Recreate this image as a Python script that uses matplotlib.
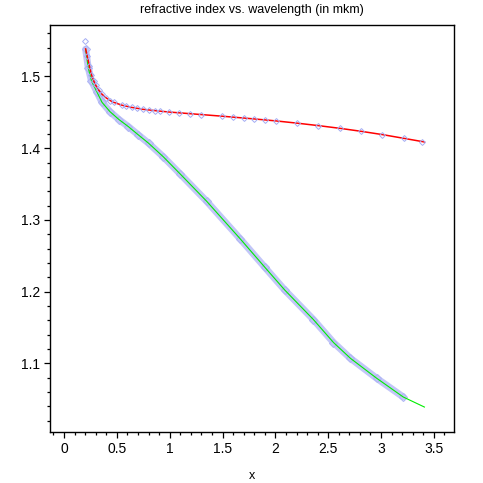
import matplotlib
matplotlib.use("Agg")
import matplotlib.pyplot as plt
from matplotlib.ticker import MultipleLocator

plt.rcParams['font.family'] = ['Liberation Sans', 'DejaVu Sans']

# Upper curve (red line) values
red_x = [0.205, 0.22, 0.24, 0.26, 0.28, 0.30, 0.33, 0.36, 0.40, 0.44, 0.47, 0.55,
         0.64, 0.75, 0.86, 0.99, 1.195, 1.498, 1.801, 2.009, 2.207, 2.406, 2.611,
         2.813, 3.011, 3.217, 3.41]
red_y = [1.5384, 1.5285, 1.5149, 1.5024, 1.4942, 1.4878, 1.4807, 1.4753, 1.4701,
         1.4662, 1.4640, 1.4599, 1.4569, 1.4542, 1.4524, 1.4505, 1.4481, 1.4446,
         1.4408, 1.4380, 1.4349, 1.4315, 1.4277, 1.4235, 1.4190, 1.4137, 1.4087]

# Upper curve measured points (diamonds)
up_pts_x = [0.20, 0.22, 0.24, 0.26, 0.28, 0.30, 0.33, 0.36, 0.40, 0.44, 0.47, 0.55,
            0.59, 0.64, 0.69, 0.75, 0.80, 0.86, 0.91, 0.99, 1.09, 1.195, 1.296,
            1.498, 1.602, 1.706, 1.801, 1.905, 2.009, 2.207, 2.406, 2.611, 2.813,
            3.011, 3.217, 3.39]
up_pts_y = [1.5495, 1.5285, 1.5149, 1.5024, 1.4942, 1.4878, 1.4807, 1.4753, 1.4701,
            1.4662, 1.4640, 1.4599, 1.4584, 1.4569, 1.4557, 1.4542, 1.4533, 1.4524,
            1.4516, 1.4505, 1.4493, 1.4481, 1.4469, 1.4446, 1.4433, 1.4420, 1.4408,
            1.4394, 1.4380, 1.4349, 1.4315, 1.4277, 1.4235, 1.4190, 1.4137, 1.4090]

# Lower curve (green line) values
green_x = [0.205, 0.23, 0.26, 0.31, 0.36, 0.435, 0.52, 0.61, 0.70, 0.80, 0.94, 1.10,
           1.35, 1.665, 1.90, 2.09, 2.36, 2.55, 2.71, 2.96, 3.21, 3.41]
green_y = [1.538, 1.512, 1.494, 1.479, 1.464, 1.451, 1.440, 1.430, 1.419, 1.407,
           1.388, 1.364, 1.326, 1.274, 1.234, 1.202, 1.161, 1.129, 1.107, 1.079,
           1.053, 1.039]

# Lower curve measured points (dense diamonds band), ends near 3.22
low_pts_x = [0.205, 0.23, 0.26, 0.31, 0.36, 0.435, 0.52, 0.61, 0.70, 0.80, 0.94,
             1.10, 1.35, 1.665, 1.90, 2.09, 2.36, 2.55, 2.71, 2.96, 3.21]
low_pts_y = [1.538, 1.512, 1.494, 1.479, 1.464, 1.451, 1.440, 1.430, 1.419, 1.407,
             1.388, 1.364, 1.326, 1.274, 1.234, 1.202, 1.161, 1.129, 1.107, 1.079,
             1.053]

title = "refractive index vs. wavelength (in mkm)"
xlabel = "x"
xticks = [0, 0.5, 1, 1.5, 2, 2.5, 3, 3.5]
xticklabels = ["0", "0.5", "1", "1.5", "2", "2.5", "3", "3.5"]
yticks = [1.1, 1.2, 1.3, 1.4, 1.5]
yticklabels = ["1.1", "1.2", "1.3", "1.4", "1.5"]

band = '#c2c6f8'

fig = plt.figure(figsize=(4.83, 4.83), dpi=100)
ax = fig.add_axes([50/483, 51/483, 404/483, 407/483])

# dense diamond band on lower curve
ax.plot(low_pts_x, low_pts_y, color=band, lw=5.0, solid_capstyle='round', zorder=2)
ax.plot(low_pts_x, low_pts_y, ls='none', marker='D', ms=4.2, mfc='none', mec='#b0b6f4',
        mew=0.8, zorder=2)
ax.plot(green_x, green_y, color='#00ee00', lw=0.8, zorder=3)

ax.plot(red_x, red_y, color='#ff0000', lw=1.1, zorder=3)
ax.plot(up_pts_x, up_pts_y, ls='none', marker='D', ms=3.0, mfc='none', mec='#a4acf4',
        mew=0.7, zorder=4)

ax.set_xlim(-0.132, 3.69)
ax.set_ylim(1.0042, 1.5718)

ax.set_xticks(xticks)
ax.set_xticklabels(xticklabels)
ax.set_yticks(yticks)
ax.set_yticklabels(yticklabels)
ax.xaxis.set_minor_locator(MultipleLocator(0.1))
ax.yaxis.set_minor_locator(MultipleLocator(0.02))
ax.tick_params(which='major', direction='out', length=4, width=0.9, labelsize=10,
               pad=3, colors='black')
ax.tick_params(which='minor', direction='out', length=2, width=0.9)
for s in ax.spines.values():
    s.set_linewidth(1.0)
    s.set_color('black')

fig.text(252/483, 1 - 10/483, title, ha='center', va='center', fontsize=9)
fig.text(252/483, 1 - 476/483, xlabel, ha='center', va='center', fontsize=9)

fig.savefig("out.png", dpi=100)
